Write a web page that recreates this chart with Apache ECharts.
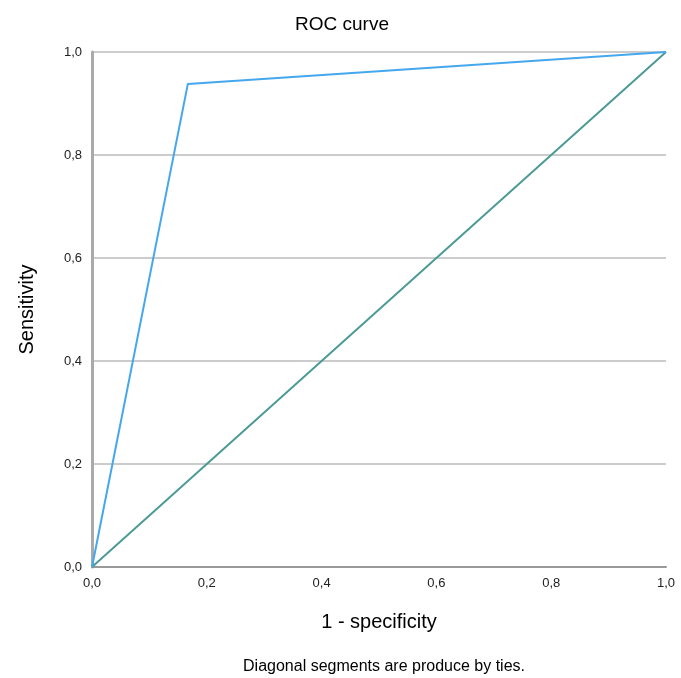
<!DOCTYPE html>
<html>
<head>
<meta charset="utf-8">
<script src="https://cdn.jsdelivr.net/npm/echarts@6/dist/echarts.min.js"></script>
<style>
html,body{margin:0;padding:0;background:#fff;}
#chart{width:681px;height:678px;}
</style>
</head>
<body>
<div id="chart"></div>
<script>
// ROC data
const rocX=[0,0.167,1];
const rocY=[0,0.938,1];
const refX=[0,1];
const refY=[0,1];
const tickLabels=['0,0','0,2','0,4','0,6','0,8','1,0'];

function pairs(xs,ys){return xs.map((x,i)=>[x,ys[i]]);}
function fmt(v){return tickLabels[Math.round(v*5)]||'';}

const font='Arial, Liberation Sans, sans-serif';
const chart=echarts.init(document.getElementById('chart'));
chart.setOption({
  animation:false,
  title:[
    {text:'ROC curve',left:337,top:10,textAlign:'center',textStyle:{fontFamily:font,fontSize:19,fontWeight:'normal',color:'#000'}},
    {text:'Diagonal segments are produce by ties.',left:379,top:654,textAlign:'center',textStyle:{fontFamily:font,fontSize:16,fontWeight:'normal',color:'#000'}}
  ],
  grid:{left:92,right:15,top:52,bottom:111,containLabel:false},
  xAxis:{
    type:'value',min:0,max:1,interval:0.2,
    name:'1 - specificity',nameLocation:'middle',nameGap:45,
    nameTextStyle:{fontFamily:font,fontSize:20,color:'#000'},
    axisLine:{show:true,lineStyle:{color:'#999',width:2}},
    axisTick:{show:false},
    splitLine:{show:false},
    axisLabel:{formatter:fmt,fontFamily:font,fontSize:13,color:'#222',margin:10}
  },
  yAxis:{
    type:'value',min:0,max:1,interval:0.2,
    name:'Sensitivity',nameLocation:'middle',nameGap:55,
    nameTextStyle:{fontFamily:font,fontSize:20,color:'#000'},
    axisLine:{show:true,lineStyle:{color:'#aaa',width:3}},
    axisTick:{show:false},
    splitLine:{show:true,lineStyle:{color:'#ccc',width:2}},
    axisLabel:{formatter:fmt,fontFamily:font,fontSize:13,color:'#222',margin:10}
  },
  series:[
    {type:'line',data:pairs(refX,refY),symbol:'none',lineStyle:{color:'#4b9a96',width:2},z:3},
    {type:'line',data:pairs(rocX,rocY),symbol:'none',lineStyle:{color:'#45a7ee',width:2},z:4}
  ]
});
</script>
</body>
</html>
